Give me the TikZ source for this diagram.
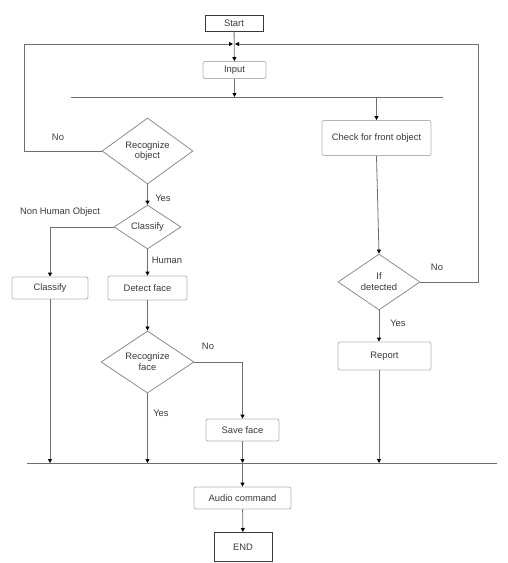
\documentclass[tikz,border=0pt]{standalone}
\usepackage{fontspec}
\setmainfont{Liberation Sans}
\usetikzlibrary{positioning,shapes.geometric,arrows.meta}
\definecolor{txtc}{HTML}{3A3A3A}
\definecolor{boxc}{HTML}{B4B4B4}
\definecolor{decc}{HTML}{8C8C8C}
\definecolor{linec}{HTML}{6E6E6E}

\begin{document}
\begin{tikzpicture}[x=1pt,y=-1pt,font=\fontsize{9.4}{10.8}\selectfont,text=txtc,
	proc/.style={draw=boxc,rounded corners=2pt,inner sep=0pt,align=center,line width=0.8pt},
	term/.style={draw=txtc,inner sep=0pt,line width=1pt},
	dec/.style={draw=decc,diamond,inner sep=0pt,align=center,line width=0.8pt},
	flow/.style={draw=linec,line width=0.8pt},
	arr/.style={flow,-{Triangle[length=4pt,width=4pt,color=black]}}]
		\useasboundingbox (0,0) rectangle (507,563);
		\node (start) at (234,23) [term,minimum width=58,minimum height=16]{Start};
		\node (input) at (234.5,70) [proc,minimum width=63,minimum height=17]{Input};
		\node (check) at (376.5,138) [proc,minimum width=109,minimum height=35]{Check for front object};
		\node (recobj) at (147.5,151) [dec,minimum width=91,minimum height=66]{Recognize\\object};
		\node (classd) at (147.5,227) [dec,minimum width=67,minimum height=44]{Classify};
		\node (classbox) at (50,288) [proc,minimum width=76,minimum height=22]{Classify};
		\node (detect) at (147.5,288) [proc,minimum width=79,minimum height=24]{Detect face};
		\node (recface) at (147.5,362) [dec,minimum width=93,minimum height=60]{Recognize\\face};
		\node (save) at (242.5,430) [proc,minimum width=73,minimum height=22]{Save face};
		\node (ifdet) at (379,282) [dec,minimum width=82,minimum height=56]{If\\detected};
		\node (report) at (384.5,356) [proc,minimum width=93,minimum height=28]{Report};
		\node (audio) at (242.5,498) [proc,minimum width=97,minimum height=22]{Audio command};
		\node (endbox) at (243,547) [term,minimum width=58,minimum height=29]{END};
		\node (lnoA) at (58,137) {No};
		\node (lyesA) at (163,198) {Yes};
		\node (lnonhum) at (60,212) {Non Human Object};
		\node (lhuman) at (167,260) {Human};
		\node (lnoB) at (208,346) {No};
		\node (lyesB) at (161,413) {Yes};
		\node (lnoC) at (437,267) {No};
		\node (lyesC) at (398,323) {Yes};
		\coordinate (busAL) at (71,97);
		\coordinate (busAR) at (443,97);
		\coordinate (busBL) at (27,463);
		\coordinate (busBR) at (497,463);
		\coordinate (loopL) at (24,44);
		\coordinate (loopR) at (478,44);
		\coordinate (mergeL) at (233,44);
		\coordinate (mergeR) at (235,44);
		\draw[flow](busAL)--(busAR);
		\draw[flow](busBL)--(busBR);
		\draw[arr](start)--(input);
		\draw[arr](recobj.west)-|(loopL)--(mergeL);
		\draw[arr](ifdet.east)-|(loopR)--(mergeR);
		\draw[arr](input)--(input|-busAL);
		\draw[arr](check|-busAL)--(check.north);
		\draw[arr](recobj)--(classd);
		\draw[arr](classd.west)-|(classbox.north);
		\draw[arr](classd)--(detect);
		\draw[arr](detect)--(recface);
		\draw[arr](recface.east)-|(save.north);
		\draw[arr](recface.south)--(recface|-busBL);
		\draw[arr](classbox.south)--(classbox|-busBL);
		\draw[arr](save.south)--(save|-busBL);
		\draw[arr](check.south)--(ifdet.north);
		\draw[arr](ifdet.south)--(ifdet|-report.north);
		\draw[arr](ifdet|-report.south)--(ifdet|-busBL);
		\draw[arr](save|-busBL)--(audio.north);
		\draw[arr](audio)--(endbox);
	\end{tikzpicture}
\end{document}
